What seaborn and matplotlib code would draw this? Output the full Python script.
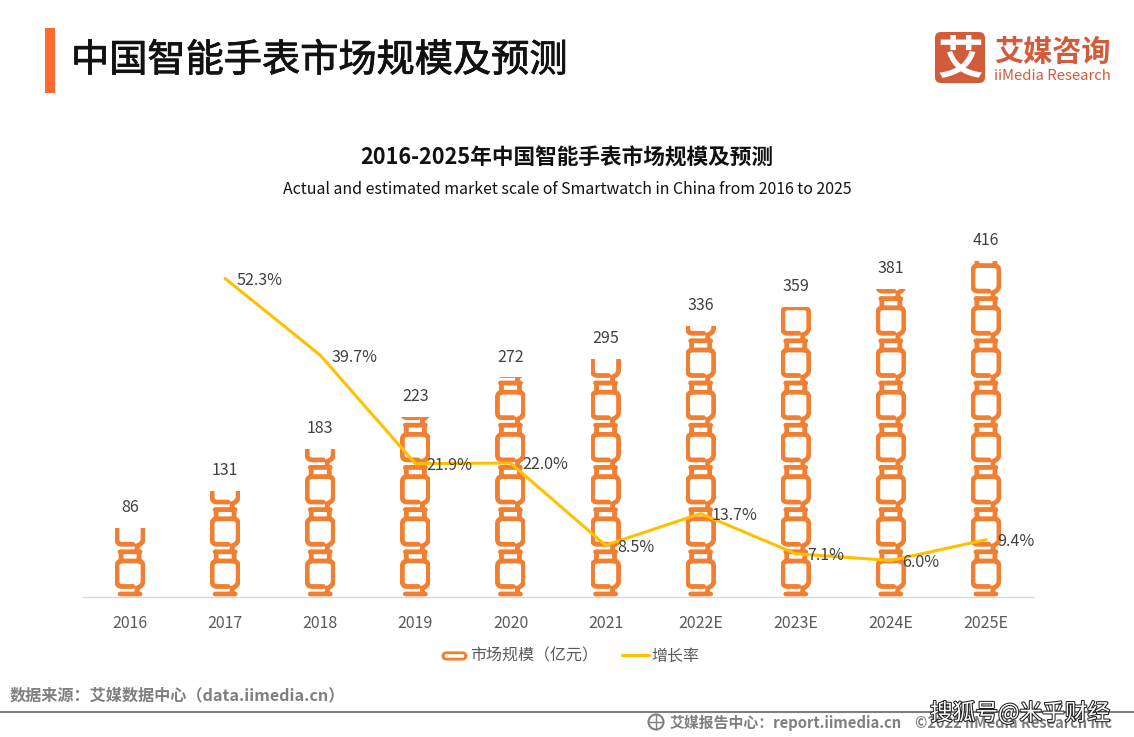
import matplotlib as mpl
mpl.use('Agg')
import matplotlib.patheffects as pe
import matplotlib.pyplot as plt
import numpy as np
import seaborn as sns
from matplotlib.legend_handler import HandlerPatch
from matplotlib.lines import Line2D
from matplotlib.patches import Circle, FancyBboxPatch, PathPatch, Rectangle
from matplotlib.path import Path

years = ['2016', '2017', '2018', '2019', '2020', '2021', '2022E', '2023E', '2024E', '2025E']
scale = [86, 131, 183, 223, 272, 295, 336, 359, 381, 416]
growth = [np.nan, 52.3, 39.7, 21.9, 22.0, 8.5, 13.7, 7.1, 6.0, 9.4]

ORANGE = '#F07F32'
YELLOW = '#FFC000'
BRAND = '#D25B3A'
GREY = '#595959'

sns.set_style('white')
plt.rcParams['font.family'] = ['Noto Sans CJK SC', 'DejaVu Sans']

W, H = 1134, 737
LEFT, RIGHT, TOP, BOTTOM = 82.5, 1033.5, 220, 597
PX_PER_UNIT = 336 / 416  # bar height in pixels per 亿元
PX_PER_PCT = 6.09
LINK_PX = 42.2
STROKE_PX = 4.8

fig = plt.figure(figsize=(W / 100, H / 100), dpi=100)
ax = fig.add_axes([LEFT / W, 1 - BOTTOM / H, (RIGHT - LEFT) / W, (BOTTOM - TOP) / H])

# bars are invisible, they only set the clip area for the chain links
sns.barplot(x=years, y=scale, ax=ax, width=30 / 95, fill=False, linewidth=0, color=ORANGE)
ax.set_xlim(-0.5, 9.5)
ax.set_ylim(0, (BOTTOM - TOP) / PX_PER_UNIT)
ax.set_ylabel('')
ax.set_yticks([])
sns.despine(ax=ax, left=True)
ax.spines['bottom'].set_color('#D9D9D9')
ax.spines['bottom'].set_linewidth(1)
ax.tick_params(axis='x', length=0, pad=13, labelsize=11.5, labelcolor=GREY)


def link_path(cx, y0, half_w):
    # one chain link, shape given in pixels from the cell's bottom centre
    L, C, M = Path.LINETO, Path.CURVE3, Path.MOVETO
    shape = [
        ((-10, 3), M), ((10, 3), L),
        ((3, 10.5), M), ((-8, 10.5), L), ((-13, 10.5), C), ((-13, 15), C), ((-13, 31), L),
        ((-13, 36), C), ((-8, 36), C), ((8, 36), L), ((13, 36), C), ((13, 31), C),
        ((13, 16), L), ((13, 11), C), ((7, 9), C), ((7, 4), L),
        ((-9, 36), M), ((-9, 45), L),
        ((9, 36), M), ((9, 45), L),
    ]
    verts = [(cx + u * half_w / 15, y0 + v / PX_PER_UNIT) for (u, v), _ in shape]
    return Path(verts, [c for _, c in shape])


for bar in ax.patches:
    cx = bar.get_x() + bar.get_width() / 2
    n_links = int(bar.get_height() * PX_PER_UNIT // LINK_PX) + 1
    for i in range(n_links):
        y0 = i * LINK_PX / PX_PER_UNIT
        link = PathPatch(link_path(cx, y0, bar.get_width() / 2), fill=False, edgecolor=ORANGE,
                         linewidth=STROKE_PX * 0.72, capstyle='round', joinstyle='round')
        ax.add_patch(link)
        link.set_clip_path(bar)

ax.bar_label(ax.containers[0], labels=[str(v) for v in scale], padding=8.5,
             fontsize=11.5, color='#404040')

ax2 = ax.twinx()
sns.lineplot(x=np.arange(len(years)), y=growth, ax=ax2, color=YELLOW, linewidth=2.2, errorbar=None)
ax2.set_ylim(0, (BOTTOM - TOP) / PX_PER_PCT)
ax2.set_yticks([])
ax2.set_ylabel('')
sns.despine(ax=ax2, left=True, right=True, top=True, bottom=True)
for i, g in enumerate(growth):
    if not np.isnan(g):
        ax2.annotate(f'{g:.1f}%', (i, g), xytext=(8.2, -1.4), textcoords='offset points',
                     va='center', ha='left', fontsize=11.6, color='#404040')


def rounded_legend_patch(legend, orig_handle, xdescent, ydescent, width, height, fontsize):
    return FancyBboxPatch((1.5, 1), width - 3, height - 2, boxstyle='round,pad=0,rounding_size=2.5')


handles = [Rectangle((0, 0), 1, 1, facecolor='white', edgecolor=ORANGE, linewidth=2),
           Line2D([], [], color=YELLOW, linewidth=2.2)]
fig.legend(handles, ['市场规模\uff08亿元\uff09', '增长率'], ncol=2, frameon=False, fontsize=11.5,
           labelcolor=GREY, loc='center', bbox_to_anchor=(570 / W, 1 - 656 / H),
           handler_map={Rectangle: HandlerPatch(patch_func=rounded_legend_patch)},
           handlelength=1.7, handleheight=0.5, handletextpad=0.15, columnspacing=1.45)

# page furniture, in pixel coordinates
page = fig.add_axes([0, 0, 1, 1], zorder=5)
page.set_xlim(0, W)
page.set_ylim(H, 0)
page.axis('off')

page.add_patch(Rectangle((45, 28), 10, 65, color='#FF6A33', linewidth=0))
page.text(71, 61, '中国智能手表市场规模及预测', fontsize=27.5, color='#111111', va='center', ha='left',
          path_effects=[pe.withStroke(linewidth=0.6, foreground='#111111')])
page.text(567, 158, '2016-2025年中国智能手表市场规模及预测', fontsize=15.6, weight='bold',
          color='#111111', va='center', ha='center')
page.text(567, 189, 'Actual and estimated market scale of Smartwatch in China from 2016 to 2025',
          fontsize=11.45, color='#111111', va='center', ha='center')

page.add_patch(FancyBboxPatch((935, 32), 50, 51, boxstyle='round,pad=0,rounding_size=6',
                              facecolor=BRAND, edgecolor='none'))
page.text(960, 60, '艾', fontsize=33, weight='bold', color='white', va='center', ha='center')
page.text(994, 52, '艾媒咨询', fontsize=21, weight='bold', color=BRAND, va='center', ha='left')
page.text(994, 76, 'iiMedia Research', fontsize=10.7, weight='medium', color=BRAND, va='center', ha='left')

page.text(10, 695, '数据来源\uff1a艾媒数据中心\uff08data.iimedia.cn\uff09', fontsize=11.65, weight='bold',
          color='#7F7F7F', va='center', ha='left')
page.plot([0, W], [712, 712], color='#7F7F7F', linewidth=1.5)
page.add_patch(Circle((656, 722), 7.5, fill=False, edgecolor='#7F7F7F', linewidth=1.5))
page.plot([649, 663], [722, 722], color='#7F7F7F', linewidth=1)
page.plot([656, 656], [715, 729], color='#7F7F7F', linewidth=1)
page.text(670, 723, '艾媒报告中心\uff1areport.iimedia.cn', fontsize=10.7, weight='bold',
          color='#7F7F7F', va='center', ha='left')
page.text(915, 723, '©2022 iiMedia Research Inc', fontsize=10.5, weight='bold',
          color='#7F7F7F', va='center', ha='left')

page.text(1020, 713, '搜狐号@米乎财经', fontsize=16.3, color='white', va='center', ha='center',
          path_effects=[pe.withStroke(linewidth=1.5, foreground='#222222')])

fig.savefig('out.png', dpi=100)
